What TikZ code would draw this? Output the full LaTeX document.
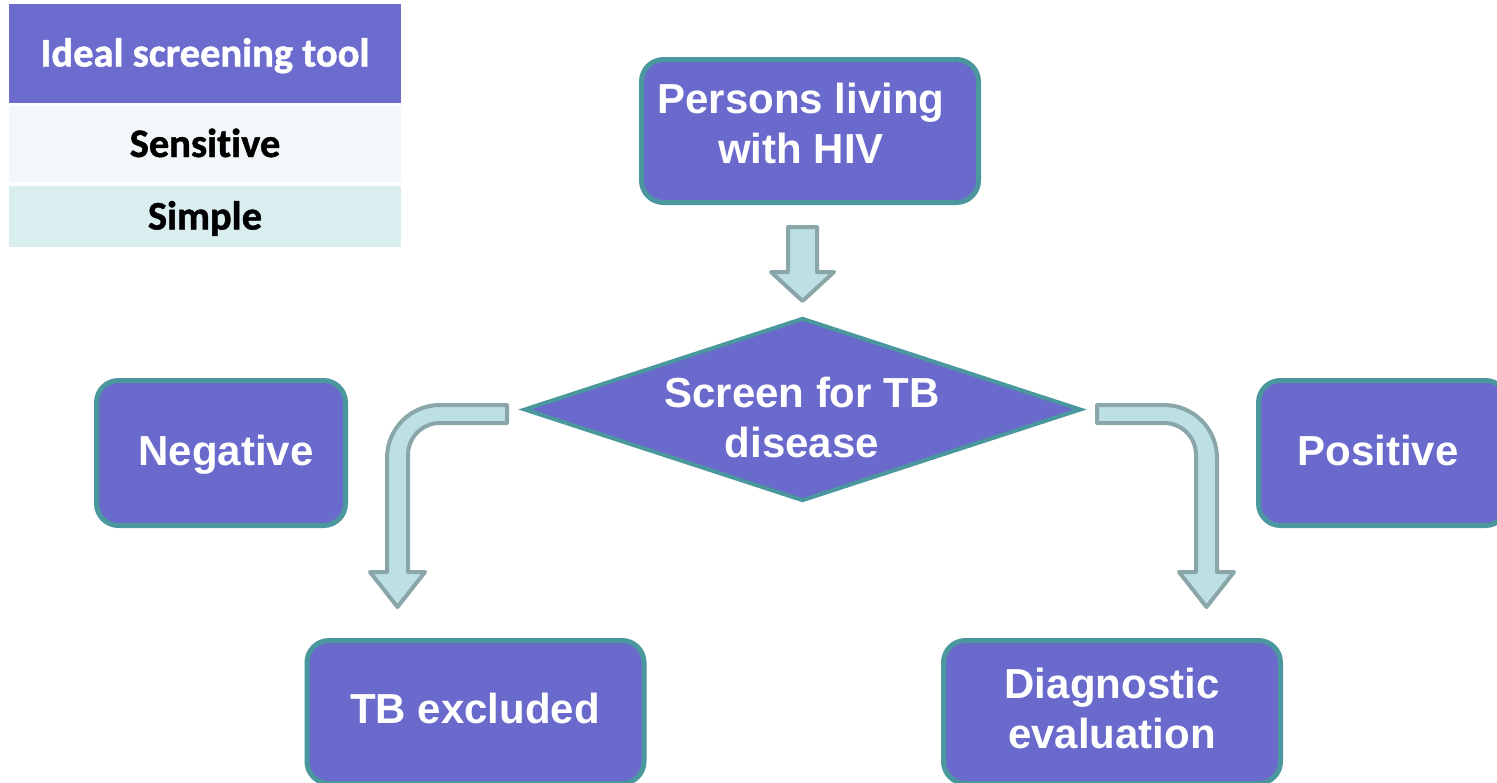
\documentclass[tikz,border=0pt]{standalone}
\usepackage{fontspec}
\setmainfont{Liberation Sans}
\newfontfamily\tabfont[Ligatures={NoCommon,NoRare},FakeBold=1.2]{Carlito}
\usetikzlibrary{shapes.geometric}
\definecolor{boxfill}{RGB}{106,106,204}
\definecolor{boxline}{RGB}{74,152,158}
\definecolor{arrfill}{RGB}{188,224,228}
\definecolor{arrline}{RGB}{138,166,168}
\definecolor{hdrfill}{RGB}{108,107,206}
\definecolor{rowa}{RGB}{242,248,250}
\definecolor{rowb}{RGB}{218,237,239}
\begin{document}
\begin{tikzpicture}[x=1pt,y=-1pt,
  flowbox/.style={draw=boxline, line width=5pt, fill=boxfill, rounded corners=22pt, inner sep=0pt},
  decision/.style={diamond, draw=boxline, line width=4pt, fill=boxfill, inner sep=0pt},
  boxtext/.style={text=white, font=\bfseries\fontsize{42}{50}\selectfont, align=center, inner sep=0pt},
  blockarrow/.style={draw=arrline, line width=4pt, fill=arrfill, line join=round},
  tabcell/.style={minimum width=392pt, inner sep=0pt, text height=26pt, text depth=0pt,
    font=\tabfont\bfseries\fontsize{40.5}{48}\selectfont}
]
\useasboundingbox (0,0) rectangle (1497,782);
\fill[white] (0,0) rectangle (1497,782);
\clip (0,0) rectangle (1497,782);

% table
\node[tabcell, fill=hdrfill, text=white, minimum height=99pt] (hdr) at (205,53.5) {Ideal screening tool};
\node[tabcell, fill=rowa, text=black, minimum height=76pt] (sens) at (205,144) {Sensitive};
\node[tabcell, fill=rowb, text=black, minimum height=61pt] (simp) at (205,216.5) {Simple};

% boxes
\node[flowbox, minimum width=337pt, minimum height=143pt] (hiv) at (810,131) {};
\node[boxtext] (hivtext) at (801,123) {Persons living\\with HIV};

\node[decision, minimum width=557pt, minimum height=183pt] (screen) at (802.5,409.5) {};
\node[boxtext] (screentext) at (802,417) {Screen for TB\\disease};

\node[flowbox, minimum width=249pt, minimum height=145pt] (neg) at (221,453) {};
\node[boxtext, anchor=base] (negtext) at (226,465) {Negative};

\node[flowbox, minimum width=249pt, minimum height=145pt] (pos) at (1383,453) {};
\node[boxtext, anchor=base] (postext) at (1378,465) {Positive};

\node[flowbox, minimum width=337pt, minimum height=143pt] (tbex) at (475.5,712) {};
\node[boxtext, anchor=base] (tbextext) at (475,723) {TB excluded};

\node[flowbox, minimum width=337pt, minimum height=143pt] (diag) at (1112,712) {};
\node[boxtext] (diagtext) at (1112,708) {Diagnostic\\evaluation};

% block arrows
\draw[blockarrow] (788,227) -- (817,227) -- (817,272) -- (834,272) -- (802.5,301)
  -- (771,272) -- (788,272) -- cycle;

\draw[blockarrow] (507,405) -- (440,405) .. controls (410.7,405) and (387,428.7) .. (387,458)
  -- (387,572) -- (370,572) -- (397.5,607) -- (425,572) -- (408,572) -- (408,455)
  .. controls (408,437.3) and (422.3,423) .. (440,423) -- (507,423) -- cycle;

\draw[blockarrow] (1097,405) -- (1164,405) .. controls (1193.3,405) and (1217,428.7) .. (1217,458)
  -- (1217,572) -- (1234,572) -- (1206.5,607) -- (1179,572) -- (1196,572) -- (1196,455)
  .. controls (1196,437.3) and (1181.7,423) .. (1164,423) -- (1097,423) -- cycle;
\end{tikzpicture}
\end{document}
